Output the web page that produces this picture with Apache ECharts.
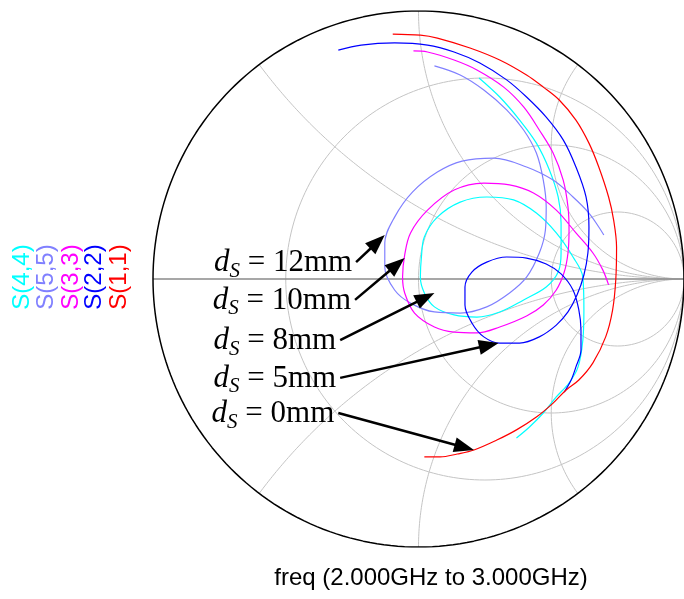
<!DOCTYPE html>
<html>
<head>
<meta charset="utf-8">
<script src="https://cdn.jsdelivr.net/npm/echarts@6/dist/echarts.min.js"></script>
<style>
  html, body { margin: 0; padding: 0; background: #ffffff; }
  #chart { width: 684px; height: 599px; }
</style>
</head>
<body>
<div id="chart"></div>
<script>
// Reflection coefficient traces, each point is [Re(Γ), Im(Γ)], swept 2 GHz → 3 GHz
const seriesNames = ['S(4,4)', 'S(5,5)', 'S(3,3)', 'S(2,2)', 'S(1,1)'];
const seriesColors = ['#00ffff', '#8080ff', '#ff00ff', '#0000ff', '#ff0000'];

const s44 = [
  [0.228, 0.750], [0.306, 0.679], [0.381, 0.593], [0.444, 0.507], [0.493, 0.407],
  [0.526, 0.306], [0.537, 0.209], [0.537, 0.097], [0.526, 0.026], [0.481, -0.030],
  [0.396, -0.078], [0.306, -0.123], [0.220, -0.142], [0.134, -0.134], [0.060, -0.104],
  [0.022, -0.052], [0.007, 0.007], [0.011, 0.082], [0.022, 0.157], [0.071, 0.231],
  [0.157, 0.287], [0.257, 0.306], [0.358, 0.295], [0.444, 0.246], [0.519, 0.172],
  [0.582, 0.082], [0.619, 0.007], [0.623, -0.116], [0.619, -0.228], [0.601, -0.328],
  [0.567, -0.388], [0.519, -0.440], [0.470, -0.500], [0.418, -0.552], [0.369, -0.593]
];

const s55 = [
  [0.060, 0.795], [0.157, 0.761], [0.246, 0.705], [0.332, 0.631], [0.396, 0.556],
  [0.444, 0.470], [0.470, 0.369], [0.481, 0.269], [0.478, 0.183], [0.455, 0.097],
  [0.407, 0.007], [0.343, -0.052], [0.257, -0.104], [0.157, -0.127], [0.060, -0.123],
  [-0.030, -0.090], [-0.090, -0.041], [-0.127, 0.045], [-0.127, 0.134], [-0.090, 0.231],
  [-0.022, 0.325], [0.071, 0.399], [0.164, 0.440], [0.284, 0.451], [0.407, 0.418],
  [0.507, 0.369], [0.582, 0.306], [0.642, 0.246], [0.679, 0.194], [0.698, 0.164]
];

const s33 = [
  [-0.019, 0.851], [0.034, 0.847], [0.134, 0.817], [0.220, 0.780], [0.321, 0.716],
  [0.396, 0.642], [0.455, 0.556], [0.507, 0.470], [0.545, 0.369], [0.563, 0.269],
  [0.567, 0.183], [0.563, 0.097], [0.549, 0.026], [0.519, -0.041], [0.470, -0.097],
  [0.407, -0.138], [0.306, -0.179], [0.220, -0.201], [0.134, -0.198], [0.060, -0.179],
  [-0.015, -0.127], [-0.052, -0.052], [-0.060, 0.007], [-0.052, 0.090], [-0.030, 0.172],
  [0.034, 0.257], [0.134, 0.332], [0.246, 0.358], [0.343, 0.351], [0.433, 0.321],
  [0.519, 0.257], [0.593, 0.172], [0.657, 0.097], [0.694, 0.034], [0.716, -0.022]
];

const s22 = [
  [-0.302, 0.854], [-0.216, 0.873], [-0.090, 0.881], [0.034, 0.873], [0.134, 0.847],
  [0.231, 0.806], [0.332, 0.743], [0.407, 0.679], [0.481, 0.604], [0.545, 0.519],
  [0.593, 0.418], [0.631, 0.306], [0.642, 0.194], [0.638, 0.097], [0.623, 0.015],
  [0.597, -0.060], [0.563, -0.123], [0.519, -0.172], [0.455, -0.216], [0.381, -0.239],
  [0.306, -0.239], [0.246, -0.216], [0.201, -0.164], [0.175, -0.097], [0.175, -0.030],
  [0.201, 0.026], [0.257, 0.063], [0.332, 0.082], [0.407, 0.078], [0.481, 0.056],
  [0.537, 0.019], [0.582, -0.041], [0.604, -0.116], [0.612, -0.190], [0.612, -0.265],
  [0.593, -0.328], [0.575, -0.377], [0.549, -0.422]
];

const s11 = [
  [-0.097, 0.914], [0.007, 0.910], [0.071, 0.899], [0.194, 0.862], [0.306, 0.817],
  [0.407, 0.761], [0.470, 0.716], [0.530, 0.668], [0.593, 0.593], [0.642, 0.507],
  [0.679, 0.418], [0.716, 0.306], [0.735, 0.220], [0.746, 0.119], [0.743, -0.004],
  [0.731, -0.116], [0.705, -0.216], [0.657, -0.313], [0.604, -0.377], [0.556, -0.414],
  [0.507, -0.463], [0.444, -0.515], [0.369, -0.563], [0.295, -0.601], [0.209, -0.638],
  [0.146, -0.653], [0.082, -0.664], [0.022, -0.664]
];

const traces = [s44, s55, s33, s22, s11];

// Annotations: stub length d_S, arrow tail (at the label) and tip (on the trace), in Γ
const arrowLabels = ['12mm', '10mm', '8mm', '5mm', '0mm'];
const arrowTails = [[-0.235, 0.063], [-0.239, -0.078], [-0.295, -0.228], [-0.295, -0.369], [-0.302, -0.500]];
const arrowTips  = [[-0.127, 0.164], [-0.052, 0.078], [0.060, -0.052], [0.302, -0.239], [0.209, -0.638]];

// Smith chart grid values
const resistanceCircles = [1 / 3, 1, 3];
const reactanceArcs = [0.5, 1, 2];

const sweepTitle = 'freq (2.000GHz to 3.000GHz)';

// ---- grid geometry helpers (normalised impedance → Γ plane) ----
function resistancePath(r) {
  const c = r / (1 + r), R = 1 / (1 + r), pts = [];
  for (let i = 0; i <= 240; i++) {
    const t = 2 * Math.PI * i / 240;
    pts.push([c + R * Math.cos(t), R * Math.sin(t)]);
  }
  return pts;
}
function reactancePath(a, sign) {
  const cy = 1 / a, R = 1 / a, pts = [];
  let end = Math.atan2((a * a - 1) / (a * (a * a + 1)), -2 / (a * a + 1));
  if (end > 0) end -= 2 * Math.PI;
  const start = -Math.PI / 2;
  for (let i = 0; i <= 160; i++) {
    const t = start + (end - start) * i / 160;
    pts.push([1 + R * Math.cos(t), sign * (cy + R * Math.sin(t))]);
  }
  return pts;
}

function plainLine(data, color, width, z) {
  return {
    type: 'line', data: data, showSymbol: false, symbol: 'none', silent: true,
    animation: false, z: z, clip: true,
    lineStyle: { color: color, width: width }
  };
}

const series = [];
resistanceCircles.forEach(r => series.push(plainLine(resistancePath(r), '#c4c4c4', 1, 1)));
reactanceArcs.forEach(x => {
  series.push(plainLine(reactancePath(x, 1), '#c4c4c4', 1, 1));
  series.push(plainLine(reactancePath(x, -1), '#c4c4c4', 1, 1));
});
series.push(plainLine([[-1, 0], [1, 0]], '#8a8a8a', 1.6, 2));
series.push(plainLine(resistancePath(0), '#000000', 1.5, 2));

traces.forEach((d, i) => {
  series.push({
    name: seriesNames[i], type: 'line', data: d, smooth: 0.35,
    showSymbol: false, symbol: 'none', animation: false, z: 3 + i,
    lineStyle: { color: seriesColors[i], width: 1.2 }
  });
});

const serif = '"Liberation Serif", "Times New Roman", serif';
series.push({
  type: 'custom', coordinateSystem: 'cartesian2d', animation: false, silent: true, z: 10,
  data: arrowTails.map((t, i) => [t[0], t[1], arrowTips[i][0], arrowTips[i][1]]),
  encode: { x: [0, 2], y: [1, 3] },
  renderItem: function (params, api) {
    const p1 = api.coord([api.value(0), api.value(1)]);
    const p2 = api.coord([api.value(2), api.value(3)]);
    const dx = p2[0] - p1[0], dy = p2[1] - p1[1];
    const len = Math.hypot(dx, dy), ux = dx / len, uy = dy / len;
    const hl = 20, hw = 7.5;
    const bx = p2[0] - ux * hl, by = p2[1] - uy * hl;
    return {
      type: 'group',
      children: [
        { type: 'line', shape: { x1: p1[0], y1: p1[1], x2: bx + ux * 3, y2: by + uy * 3 },
          style: { stroke: '#000', lineWidth: 2.5 } },
        { type: 'polygon',
          shape: { points: [[p2[0], p2[1]], [bx - uy * hw, by + ux * hw], [bx + uy * hw, by - ux * hw]] },
          style: { fill: '#000' } },
        { type: 'text', x: p1[0] - 4, y: p1[1] + 4,
          style: {
            text: '{d|d}{s|S}{t| = ' + arrowLabels[params.dataIndex] + '}',
            align: 'right', verticalAlign: 'middle',
            rich: {
              d: { font: 'italic 31px ' + serif, fill: '#000', lineHeight: 31, padding: [0, 0, 3, 0], verticalAlign: 'bottom' },
              s: { font: 'italic 21px ' + serif, fill: '#000', lineHeight: 21, verticalAlign: 'bottom' },
              t: { font: '31px ' + serif, fill: '#000', lineHeight: 31, padding: [0, 0, 3, 0], verticalAlign: 'bottom' }
            }
          } }
      ]
    };
  }
});

// Layout of the rotated trace legend and the sweep caption
const legendX = [22, 46, 71, 94, 119];
const sans = '"Liberation Sans", Arial, sans-serif';
const graphic = seriesNames.map((n, i) => ({
  type: 'text', x: legendX[i], y: 277, rotation: Math.PI / 2, silent: true,
  style: { text: n, fill: seriesColors[i], font: '24px ' + sans, align: 'center', verticalAlign: 'middle' }
}));
graphic.push({
  type: 'text', x: 431, y: 578, silent: true,
  style: { text: sweepTitle, fill: '#000', font: '24px ' + sans, align: 'center', verticalAlign: 'middle' }
});

const chart = echarts.init(document.getElementById('chart'), null, { renderer: 'canvas' });
chart.setOption({
  backgroundColor: '#ffffff',
  animation: false,
  grid: { left: 153, top: 11, width: 536, height: 536 },
  xAxis: { type: 'value', min: -1, max: 1, show: false },
  yAxis: { type: 'value', min: -1, max: 1, show: false },
  series: series,
  graphic: graphic
});
</script>
</body>
</html>
